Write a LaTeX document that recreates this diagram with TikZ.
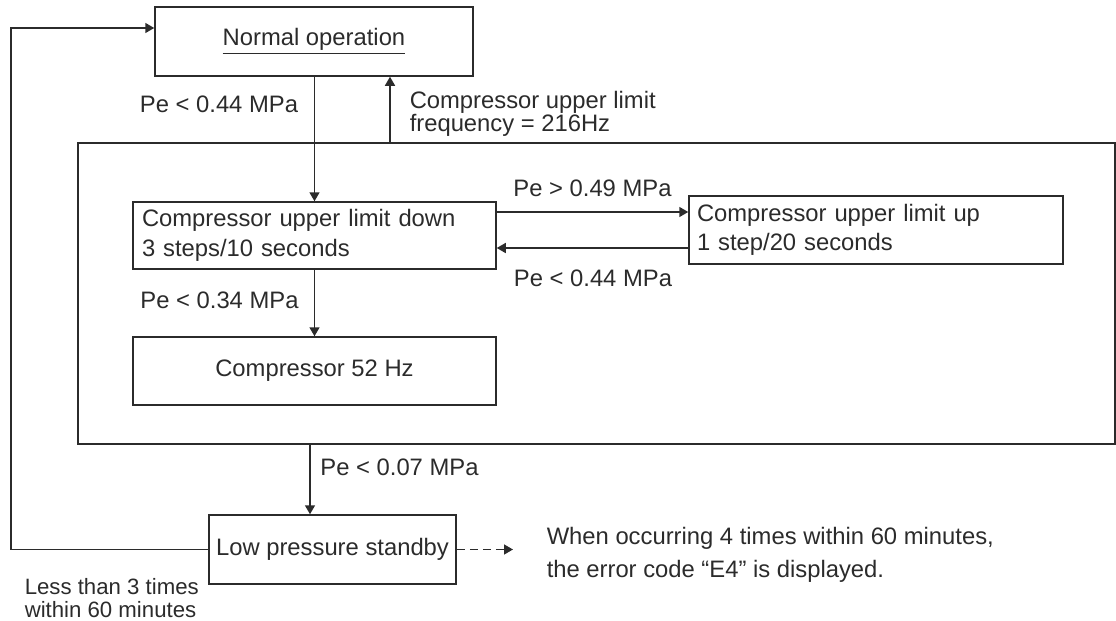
\documentclass[tikz,border=0pt]{standalone}
\usepackage{fontspec}
\setmainfont{Liberation Sans}
\usepackage{xcolor}
\usepackage{tikz}
\usetikzlibrary{arrows.meta}
\definecolor{ink}{HTML}{2B2B2B}

\begin{document}
\begin{tikzpicture}[x=0.5pt,y=-0.5pt,font=\fontsize{11.9}{14}\selectfont,
  line width=0.75pt,draw=ink,text=ink,
  box/.style={draw,inner sep=0pt},
  arr/.style={-{Triangle[length=4.5pt,width=5pt]}},
  lbl/.style={inner sep=0pt}]
\useasboundingbox (0,0) rectangle (1116,621);
\node[box,minimum width=159pt,minimum height=34.5pt] (normal) at (314,41.5) {\underline{Normal operation}};
\node[box,minimum width=518.5pt,minimum height=150.5pt] (zone) at (596.5,293.5) {};
\node[box,minimum width=181.5pt,minimum height=33.5pt,text width=172.5pt,align=left,inner xsep=4.5pt,
  font=\fontsize{11.9}{15}\selectfont] (down) at (314.5,235.5)
  {Compressor upper limit down\\3 steps/10 seconds};
\node[box,minimum width=187pt,minimum height=34pt,text width=179pt,align=left,inner xsep=4pt,
  font=\fontsize{11.9}{14.5}\selectfont] (up) at (876,230)
  {Compressor upper limit up\\1 step/20 seconds};
\node[box,minimum width=181.5pt,minimum height=34pt] (hz) at (314.5,371) {Compressor 52 Hz};
\node[box,minimum width=123.5pt,minimum height=34.5pt] (standby) at (332.5,549.5) {Low pressure standby};

\node[lbl] (l1) at (219,104) {Pe < 0.44 MPa};
\node[lbl,anchor=west,align=left,font=\fontsize{11.9}{11.5}\selectfont] (l2) at (409,113.5) {Compressor upper limit\\frequency = 216Hz};
\node[lbl] (l3) at (592.5,188) {Pe > 0.49 MPa};
\node[lbl] (l4) at (593,278) {Pe < 0.44 MPa};
\node[lbl] (l5) at (219.5,300) {Pe < 0.34 MPa};
\node[lbl] (l6) at (399.5,467) {Pe < 0.07 MPa};
\node[lbl,anchor=west,align=left,font=\fontsize{11.1}{11.5}\selectfont] (l7) at (24,598) {Less than 3 times\\within 60 minutes};
\node[lbl,anchor=west,align=left,font=\fontsize{11.9}{16.5}\selectfont] (l8) at (546,555) {When occurring 4 times within 60 minutes,\\the error code “E4” is displayed.};

\coordinate (upx) at (390,0);
\coordinate (lowx) at (310,0);
\coordinate (loopx) at (11,0);
\coordinate (tip) at (513,0);
\coordinate (into) at ([yshift=6.75pt]normal.west);
\coordinate (go) at ([yshift=11.75pt]down.east);
\coordinate (back) at ([yshift=-6.25pt]down.east);

\draw[arr] (normal.south -| down.north) -- (down.north);
\draw[arr] (zone.north -| upx) -- (normal.south -| upx);
\draw[arr] (go) -- (go -| up.west);
\draw[arr] (back -| up.west) -- (back);
\draw[arr] (down) -- (hz);
\draw[arr] (zone.south -| lowx) -- (standby.north -| lowx);
\draw[arr] (standby.west) -- (standby.west -| loopx) -- (into -| loopx) -- (into);
\draw[arr,dash pattern=on 4pt off 2.5pt] (standby.east) -- (standby.east -| tip);
\end{tikzpicture}
\end{document}
